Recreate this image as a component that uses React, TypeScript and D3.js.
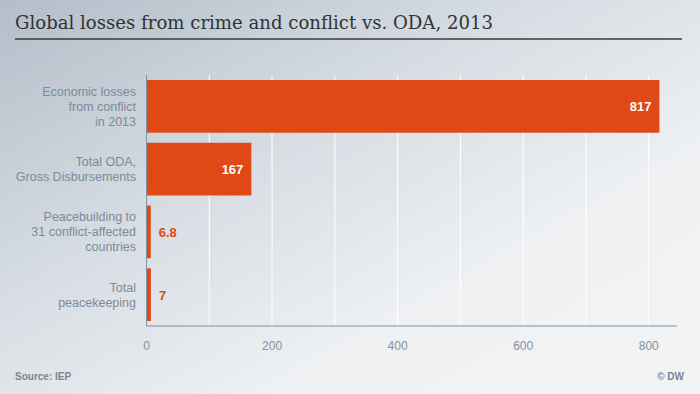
import React from "react";
import * as d3 from "d3";

const categories: string[][] = [
  ["Economic losses", "from conflict", "in 2013"],
  ["Total ODA,", "Gross Disbursements"],
  ["Peacebuilding to", "31 conflict-affected", "countries"],
  ["Total", "peacekeeping"],
];
const values: number[] = [817, 167, 6.8, 7];
const valueLabels: string[] = ["817", "167", "6.8", "7"];
const tickValues: number[] = [0, 200, 400, 600, 800];
const gridValues: number[] = [100, 200, 300, 400, 500, 600, 700, 800];

const W = 700;
const H = 394;
const ORANGE = "#e04915";
const LABEL = "#7b8b9b";

export default function App() {
  const x = d3.scaleLinear().domain([0, 845]).range([146.5, 677]);
  const y = d3
    .scaleBand<number>()
    .domain(d3.range(categories.length))
    .range([75, 326])
    .paddingInner(0.16)
    .paddingOuter(0.08);

  return (
    <div style={{ position: "fixed", left: 0, top: 0, width: W, height: H }}>
      <svg width={W} height={H} style={{ display: "block" }}>
        <defs>
          <linearGradient id="bg" x1="0" y1="0" x2="1" y2="1" gradientUnits="objectBoundingBox">
            <stop offset="0" stopColor="#b3bec9" />
            <stop offset="0.4" stopColor="#d8dee4" />
            <stop offset="0.7" stopColor="#eff1f3" />
            <stop offset="1" stopColor="#f2f3f5" />
          </linearGradient>
        </defs>
        <rect x={0} y={0} width={W} height={H} fill="url(#bg)" />
        <text
          x={15}
          y={29}
          fontFamily="'DejaVu Serif', Georgia, serif"
          fontSize={19}
          fill="#333"
          textLength={478}
          lengthAdjust="spacingAndGlyphs"
        >
          Global losses from crime and conflict vs. ODA, 2013
        </text>
        <line x1={15} x2={682} y1={39} y2={39} stroke="#3a3a3a" strokeWidth={1.5} />

        {gridValues.map((g) => (
          <line key={g} x1={x(g)} x2={x(g)} y1={75} y2={326} stroke="#ffffff" strokeWidth={1} />
        ))}

        {values.map((v, i) => {
          const bx = x(0);
          const bw = x(v) - x(0);
          const by = y(i)!;
          const bh = y.bandwidth();
          const inside = bw > 60;
          return (
            <g key={i}>
              <rect x={bx} y={by} width={bw} height={bh} fill={ORANGE} />
              <text
                x={inside ? x(v) - 8 : x(v) + 8}
                y={by + bh / 2 + 5}
                textAnchor={inside ? "end" : "start"}
                fontFamily="'Liberation Sans', Arial, sans-serif"
                fontWeight="bold"
                fontSize={13}
                fill={inside ? "#ffffff" : ORANGE}
              >
                {valueLabels[i]}
              </text>
              {categories[i].map((line, j) => {
                const n = categories[i].length;
                const lh = 15;
                const cy = by + bh / 2 - ((n - 1) * lh) / 2 + j * lh + 4.5;
                return (
                  <text
                    key={j}
                    x={136}
                    y={cy}
                    textAnchor="end"
                    fontFamily="'Liberation Sans', Arial, sans-serif"
                    fontSize={12.5}
                    fill={LABEL}
                  >
                    {line}
                  </text>
                );
              })}
            </g>
          );
        })}

        <line x1={x(0)} x2={x(0)} y1={75} y2={326} stroke="#7f92a4" strokeWidth={1} />
        <line x1={x(0)} x2={677} y1={326} y2={326} stroke="#7f92a4" strokeWidth={1} />

        {tickValues.map((t) => (
          <text
            key={t}
            x={x(t)}
            y={350}
            textAnchor="middle"
            fontFamily="'Liberation Sans', Arial, sans-serif"
            fontSize={12}
            fill="#7f92a4"
          >
            {t}
          </text>
        ))}

        <text
          x={15}
          y={380}
          fontFamily="'Liberation Sans', Arial, sans-serif"
          fontSize={10}
          fontWeight="bold"
          fill="#7a8490"
        >
          Source: IEP
        </text>
        <text
          x={684}
          y={380}
          textAnchor="end"
          fontFamily="'Liberation Sans', Arial, sans-serif"
          fontSize={10}
          fontWeight="bold"
          fill="#7a8490"
        >
          © DW
        </text>
      </svg>
    </div>
  );
}
